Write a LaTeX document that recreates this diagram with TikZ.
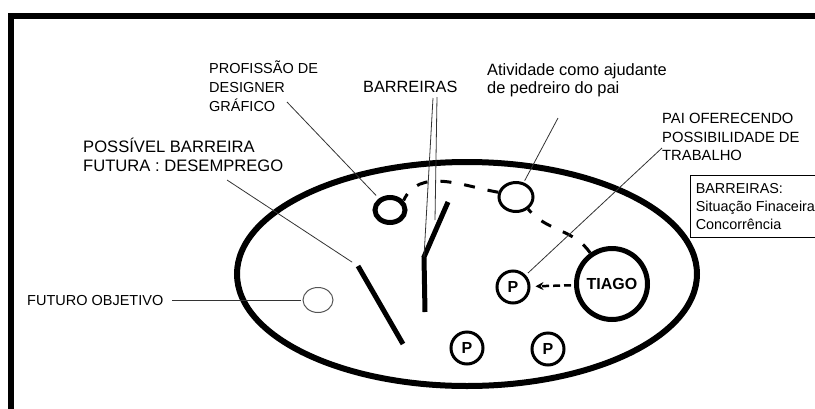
\documentclass[tikz,border=0pt]{standalone}
\usepackage{fontspec}
\setmainfont{Liberation Sans}
\usepackage{tikz}
\usetikzlibrary{arrows.meta,shapes.geometric}
\definecolor{leaderColor}{HTML}{333333}
\definecolor{goalColor}{HTML}{555555}

\begin{document}
\begin{tikzpicture}[x=1pt,y=-1pt,
	txt/.style={inner sep=0pt,anchor=base west,align=left},
	leader/.style={leaderColor,line width=0.8pt},
	barrier/.style={line width=5pt},
	trail/.style={line width=3pt,dash pattern=on 11pt off 13pt},
	person/.style={circle,draw,line width=3pt,minimum size=32pt,inner sep=0pt,font=\fontsize{16}{16}\selectfont\bfseries}]
	\useasboundingbox (0,0) rectangle (815,408);
	\draw[line width=6pt] (11,410) -- (11,16) -- (816,16);
	\draw[line width=6pt] (467,274) ellipse [x radius=230, y radius=112];

	\node[ellipse,draw,line width=5pt,minimum width=30pt,minimum height=25pt,inner sep=0pt] (designer) at (390,210) {};
	\node[ellipse,draw,line width=3pt,minimum width=34pt,minimum height=29pt,inner sep=0pt] (ajudante) at (516,197) {};
	\node[ellipse,draw=goalColor,line width=1pt,minimum width=30pt,minimum height=25pt,inner sep=0pt] (objetivo) at (318,300) {};
	\node[circle,draw,line width=5pt,minimum size=71pt,inner sep=0pt,font=\fontsize{16}{16}\selectfont\bfseries] (tiago) at (612,284) {TIAGO};
	\node[person] (pai) at (513,287) {P};
	\node[person] (pb) at (467,348) {P};
	\node[person] (pc) at (548,349) {P};

	% multi-line labels sit on the baseline of their last line
	\node[txt,font=\fontsize{14.5}{19}\selectfont] (profissao) at (209,111) {PROFISSÃO DE\\DESIGNER\\GRÁFICO};
	\node[txt,font=\fontsize{16.3}{18}\selectfont] (barreiras) at (363,92) {BARREIRAS};
	\node[txt,font=\fontsize{16.4}{18}\selectfont] (atividade) at (487,93) {Atividade como ajudante\\de pedreiro do pai};
	\node[txt,font=\fontsize{14.8}{18.5}\selectfont] (oferta) at (662,160.5) {PAI OFERECENDO\\POSSIBILIDADE DE\\TRABALHO};
	\node[txt,font=\fontsize{16.6}{19}\selectfont] (desemprego) at (83,171.5) {POSSÍVEL BARREIRA\\FUTURA : DESEMPREGO};
	\node[txt,font=\fontsize{14.5}{18}\selectfont] (futuro) at (27,305) {FUTURO OBJETIVO};
	\node[draw,line width=0.8pt,anchor=north west,align=left,inner xsep=2.5pt,inner ysep=6.5pt,minimum width=130pt,minimum height=62pt,font=\fontsize{14.4}{18}\selectfont] (situacao) at (690,175) {BARREIRAS:\\Situação Finaceira\\Concorrência};

	\coordinate (ba1) at (358,266);
	\coordinate (ba2) at (403,344);
	\coordinate (bb1) at (425,312);
	\coordinate (bb2) at (424,257);
	\coordinate (bb3) at (448,202);
	\draw[barrier] (ba1) -- (ba2);
	\draw[barrier] (bb1) -- (bb2) -- (bb3);

	\draw[trail] (tiago.125) to[out=125,in=-50] (ajudante.-45);
	\draw[trail] (ajudante.165) to[out=170,in=65] (designer.35);
	\draw[line width=2.5pt,dash pattern=on 7pt off 4pt,-{Stealth[length=8pt,width=8pt]},shorten >=5pt,shorten <=3pt] (tiago) -- (pai);

	\coordinate (profpt) at (287,102);
	\coordinate (barpt1) at (437,97);
	\coordinate (barpt2) at (433,98);
	\coordinate (bartip) at (435,220);
	\coordinate (despt) at (227,180);
	\coordinate (ativpt) at (558,118);
	\coordinate (paipt) at (662,148);
	\coordinate (futpt) at (172,300);
	\draw[leader,shorten >=4pt] (profpt) -- (designer);
	\draw[leader] (barpt1) -- (bartip);
	\draw[leader] (barpt2) -- (bb2);
	\draw[leader,shorten >=7pt] (despt) -- (ba1);
	\draw[leader,shorten >=2pt] (ativpt) -- (ajudante);
	\draw[leader,shorten >=3pt] (paipt) -- (pai);
	\draw[leader,shorten >=2pt] (futpt) -- (objetivo);
\end{tikzpicture}
\end{document}
